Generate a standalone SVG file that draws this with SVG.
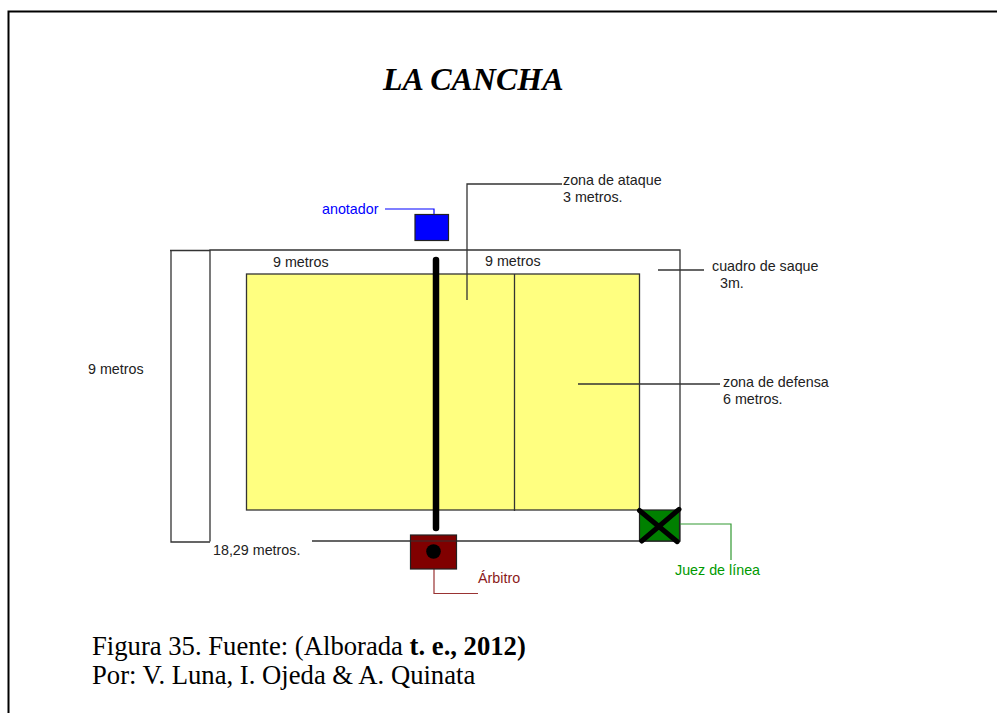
<svg xmlns="http://www.w3.org/2000/svg" width="997" height="713" viewBox="0 0 997 713">
<style>
.ln{fill:none;stroke:#333;stroke-width:1.300}
.k{fill:none;stroke:#000;stroke-linecap:round}
.s{font-family:"Liberation Sans",Arial,sans-serif;font-size:14.300px;fill:#222}
.t{font-family:"Liberation Serif","Times New Roman",serif;font-size:26.670px;fill:#000}
</style>
<rect width="997" height="713" fill="#fff"/>
<path d="M8.500 713V11.500H997" fill="none" stroke="#000" stroke-width="2"/>
<text class="t" x="383" y="90" style="font-size:32px;font-weight:bold;font-style:italic">LA CANCHA</text>
<g id="court">
<path class="ln" d="M210 541.500V250H680V541H312" fill="#fff"/>
<rect x="246.500" y="274" width="393" height="236" fill="#ffff80" stroke="#333" stroke-width="1.300"/>
</g>
<g id="connectors">
<path class="ln" d="M514.500 274V511"/>
<path class="ln" d="M170 250.500H210M171 250.500V542H210"/>
<path class="ln" d="M467 300V184H562"/>
<path class="ln" d="M658 270H704"/>
<path class="ln" d="M578 384H720"/>
<path d="M385 209H434V214" fill="none" stroke="#0000ff" stroke-width="1.200"/>
<path d="M434 569V593.500H478" fill="none" stroke="#993333" stroke-width="1.200"/>
<path d="M680 524H731V560" fill="none" stroke="#339933" stroke-width="1.200"/>
<path class="k" d="M436 260V528" stroke-width="6.500"/>
</g>
<g id="anotador">
<rect x="415" y="214.500" width="33.500" height="26" fill="#0000ff" stroke="#222" stroke-width="1.200"/>
<text class="s" x="322" y="214" style="fill:#0000ff">anotador</text>
</g>
<g id="arbitro">
<rect x="410.500" y="535" width="46" height="34" fill="#800000" stroke="#222" stroke-width="1.200"/>
<path d="M410.500 541H456.500" stroke="#333" stroke-width="1"/>
<circle cx="433.500" cy="551.500" r="7.300" fill="#000"/>
<text class="s" x="478" y="583" style="fill:#8b1a1a">Árbitro</text>
</g>
<g id="juez">
<rect x="639.500" y="510" width="40" height="31" fill="#008000" stroke="#222" stroke-width="1.200"/>
<path class="k" d="M639.500 510.500L677.300 541.700M679 509.300L641.700 541" stroke-width="5"/>
<text class="s" x="675" y="574.500" style="fill:#009900">Juez de línea</text>
</g>
<g id="labels">
<text class="s" x="273" y="267">9 metros</text>
<text class="s" x="485" y="266">9 metros</text>
<text class="s" x="88" y="374">9 metros</text>
<text class="s" x="213" y="555">18,29 metros.</text>
<text class="s" x="563" y="185">zona de ataque</text>
<text class="s" x="563" y="201.500">3 metros.</text>
<text class="s" x="712" y="271">cuadro de saque</text>
<text class="s" x="720" y="288">3m.</text>
<text class="s" x="723" y="386.500">zona de defensa</text>
<text class="s" x="723" y="404">6 metros.</text>
</g>
<g id="caption">
<text class="t" x="92" y="655">Figura 35. Fuente: (Alborada <tspan font-weight="bold">t. e., 2012)</tspan></text>
<text class="t" x="92" y="684">Por: V. Luna, I. Ojeda &amp; A. Quinata</text>
</g>
</svg>
